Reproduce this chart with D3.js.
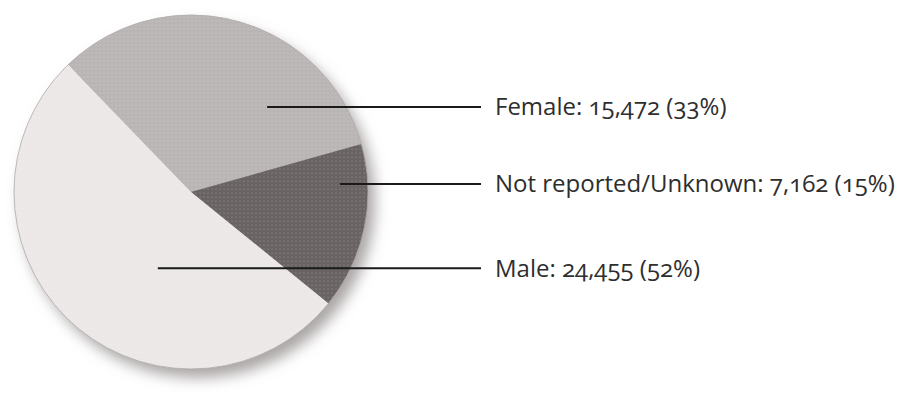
<!DOCTYPE html>
<html>
<head>
<meta charset="utf-8">
<script src="https://cdn.jsdelivr.net/npm/d3@7"></script>
<style>
    body { margin: 0; background: #fff; }
    text { font-family: "Open Sans", "Lato", sans-serif; font-variant-numeric: oldstyle-nums; }
</style>
</head>
<body>
<div id="chart"></div>
<script>
// Slices, clockwise from the upper left
const categories = ["Female", "Not reported/Unknown", "Male"];
const counts = [15472, 7162, 24455];
const percents = [33, 15, 52];

// Fills for each slice
const sliceColors = ["#bab5b5", "#6a6363", "#ece8e8"];

const width = 905;
const height = 400;
const cx = 191, cy = 192, radius = 177;

// Where each leader line starts inside its slice (angle in degrees, share of radius)
const leaderAngles = [41.8, 86.9, 203.5];
const leaderRadii = [0.645, 0.843, 0.47];
const leaderEndX = 481;
const labelX = 495;

const svg = d3.select("#chart").append("svg")
    .attr("width", width)
    .attr("height", height);

// Soft shadow beneath the pie
const defs = svg.append("defs");
const shadow = defs.append("filter")
    .attr("id", "shadow")
    .attr("x", "-20%").attr("y", "-20%")
    .attr("width", "140%").attr("height", "140%");
shadow.append("feGaussianBlur").attr("in", "SourceAlpha").attr("stdDeviation", 7);
shadow.append("feOffset").attr("dx", 7).attr("dy", 9).attr("result", "blur");
shadow.append("feFlood").attr("flood-color", "#878080").attr("flood-opacity", 0.7);
shadow.append("feComposite").attr("in2", "blur").attr("operator", "in");

// Fine dot texture for the slices
const dots = defs.append("pattern")
    .attr("id", "dots")
    .attr("width", 4).attr("height", 4)
    .attr("patternUnits", "userSpaceOnUse");
dots.append("circle").attr("cx", 1).attr("cy", 1).attr("r", 0.6).attr("fill", "#ffffff").attr("opacity", 0.35);

const pie = d3.pie()
    .sort(null)
    .startAngle(-44 * Math.PI / 180)
    .endAngle((360 - 44) * Math.PI / 180);

const arc = d3.arc().innerRadius(0).outerRadius(radius);
const arcs = pie(counts);

const g = svg.append("g").attr("transform", `translate(${cx},${cy})`);

g.append("circle")
    .attr("r", radius)
    .attr("fill", "#fff")
    .attr("filter", "url(#shadow)");

g.selectAll("path.slice")
    .data(arcs)
    .join("path")
    .attr("class", "slice")
    .attr("d", arc)
    .attr("fill", (d, i) => sliceColors[i]);

g.selectAll("path.tex")
    .data(arcs)
    .join("path")
    .attr("class", "tex")
    .attr("d", arc)
    .attr("fill", "url(#dots)");

g.append("circle")
    .attr("r", radius)
    .attr("fill", "none")
    .attr("stroke", "#b0aaaa")
    .attr("stroke-width", 0.8);

// Leader lines and labels
categories.forEach((name, i) => {
    const a = leaderAngles[i] * Math.PI / 180;
    const r = leaderRadii[i] * radius;
    const x0 = cx + r * Math.sin(a);
    const y0 = cy - r * Math.cos(a);

    svg.append("line")
        .attr("x1", x0).attr("y1", y0)
        .attr("x2", leaderEndX).attr("y2", y0)
        .attr("stroke", "#1a1a1a")
        .attr("stroke-width", 2);

    svg.append("text")
        .attr("x", labelX)
        .attr("y", y0)
        .attr("dy", "0.35em")
        .attr("font-size", 24)
        .attr("fill", "#2e2e2e")
        .text(`${name}: ${d3.format(",")(counts[i])} (${percents[i]}%)`);
});
</script>
</body>
</html>
